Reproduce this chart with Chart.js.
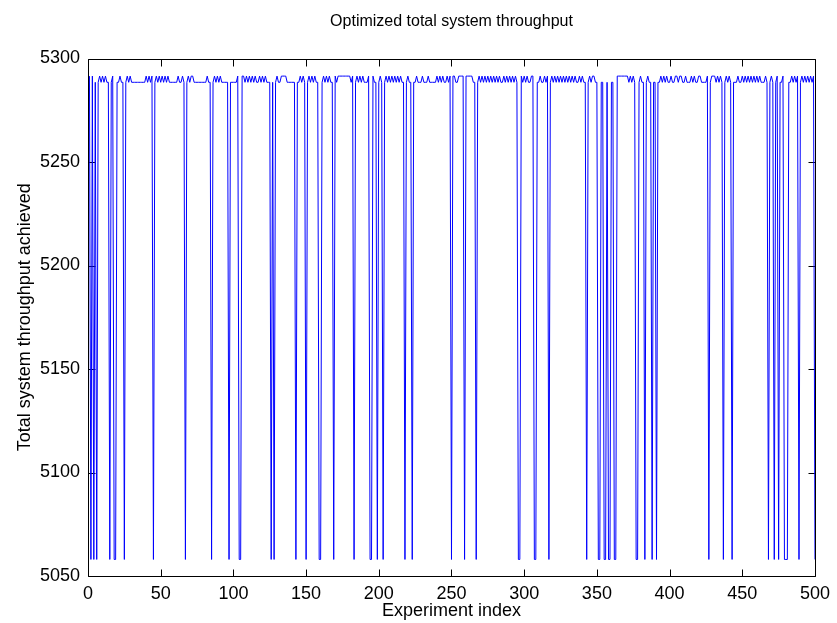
<!DOCTYPE html>
<html>
<head>
<meta charset="utf-8">
<script src="https://cdn.jsdelivr.net/npm/chart.js@4/dist/chart.umd.min.js"></script>
<style>
  html, body { margin: 0; padding: 0; background: #fff; }
  #wrap { width: 837px; height: 623px; }
</style>
</head>
<body>
<div id="wrap"><canvas id="c" width="837" height="623"></canvas></div>
<script>
// ---- data ----
const chartTitle = 'Optimized total system throughput';
const xAxisLabel = 'Experiment index';
const yAxisLabel = 'Total system throughput achieved';
const xTicks = [0, 50, 100, 150, 200, 250, 300, 350, 400, 450, 500];
const yTicks = [5050, 5100, 5150, 5200, 5250, 5300];

// throughput for experiments 1..500
const throughput = [
5291.5,5058,5291.5,5058,5288.5,5058,5288.5,5291.5,5288.5,5291.5,5288.5,5291.5,5288.5,5288.5,5058,5288.5,5291.5,5058,5058,5288.5,
5288.5,5291.5,5288.5,5288.5,5058,5288.5,5291.5,5288.5,5291.5,5288.5,5288.5,5288.5,5288.5,5288.5,5288.5,5288.5,5288.5,5288.5,5288.5,5291.5,
5288.5,5291.5,5288.5,5291.5,5058,5288.5,5291.5,5288.5,5291.5,5288.5,5291.5,5288.5,5291.5,5288.5,5291.5,5288.5,5288.5,5288.5,5288.5,5288.5,
5288.5,5291.5,5288.5,5288.5,5291.5,5288.5,5058,5288.5,5291.5,5288.5,5291.5,5291.5,5288.5,5288.5,5288.5,5288.5,5288.5,5288.5,5288.5,5288.5,
5288.5,5291.5,5288.5,5288.5,5058,5288.5,5291.5,5288.5,5291.5,5288.5,5291.5,5288.5,5288.5,5288.5,5288.5,5288.5,5058,5288.5,5288.5,5288.5,
5288.5,5288.5,5291.5,5058,5058,5291.5,5291.5,5288.5,5291.5,5288.5,5291.5,5288.5,5291.5,5288.5,5291.5,5288.5,5288.5,5291.5,5288.5,5291.5,
5288.5,5291.5,5288.5,5288.5,5288.5,5058,5288.5,5058,5288.5,5291.5,5288.5,5288.5,5291.5,5291.5,5291.5,5291.5,5288.5,5288.5,5288.5,5288.5,
5288.5,5288.5,5058,5288.5,5288.5,5291.5,5288.5,5291.5,5288.5,5058,5288.5,5291.5,5288.5,5291.5,5288.5,5291.5,5288.5,5288.5,5058,5058,
5288.5,5291.5,5288.5,5291.5,5288.5,5291.5,5288.5,5288.5,5058,5291.5,5288.5,5291.5,5291.5,5291.5,5291.5,5291.5,5291.5,5291.5,5291.5,5291.5,
5288.5,5291.5,5058,5288.5,5291.5,5288.5,5291.5,5288.5,5291.5,5288.5,5288.5,5288.5,5291.5,5058,5058,5291.5,5288.5,5288.5,5058,5288.5,
5291.5,5288.5,5058,5288.5,5291.5,5288.5,5291.5,5288.5,5291.5,5288.5,5291.5,5288.5,5291.5,5288.5,5291.5,5288.5,5288.5,5058,5288.5,5291.5,
5288.5,5288.5,5058,5288.5,5288.5,5291.5,5288.5,5288.5,5288.5,5291.5,5288.5,5288.5,5288.5,5291.5,5288.5,5288.5,5288.5,5288.5,5288.5,5291.5,
5288.5,5291.5,5288.5,5291.5,5288.5,5288.5,5291.5,5288.5,5291.5,5058,5291.5,5291.5,5288.5,5288.5,5291.5,5291.5,5291.5,5291.5,5058,5291.5,
5291.5,5291.5,5291.5,5291.5,5288.5,5288.5,5058,5288.5,5291.5,5288.5,5291.5,5288.5,5291.5,5288.5,5291.5,5288.5,5291.5,5288.5,5291.5,5288.5,
5291.5,5288.5,5291.5,5288.5,5288.5,5291.5,5288.5,5291.5,5288.5,5291.5,5288.5,5291.5,5288.5,5291.5,5288.5,5058,5058,5291.5,5288.5,5291.5,
5288.5,5291.5,5288.5,5288.5,5291.5,5291.5,5058,5058,5288.5,5288.5,5291.5,5288.5,5288.5,5291.5,5288.5,5291.5,5058,5288.5,5291.5,5288.5,
5291.5,5288.5,5291.5,5288.5,5291.5,5288.5,5291.5,5288.5,5291.5,5288.5,5291.5,5288.5,5291.5,5288.5,5291.5,5288.5,5288.5,5291.5,5288.5,5291.5,
5288.5,5288.5,5058,5288.5,5291.5,5288.5,5291.5,5291.5,5288.5,5288.5,5058,5058,5288.5,5288.5,5058,5058,5288.5,5058,5058,5288.5,
5288.5,5058,5058,5291.5,5291.5,5291.5,5291.5,5291.5,5291.5,5291.5,5291.5,5288.5,5291.5,5288.5,5291.5,5288.5,5058,5058,5288.5,5291.5,
5288.5,5288.5,5058,5288.5,5291.5,5288.5,5288.5,5058,5288.5,5288.5,5058,5288.5,5288.5,5291.5,5288.5,5291.5,5288.5,5291.5,5288.5,5288.5,
5291.5,5288.5,5288.5,5291.5,5291.5,5288.5,5291.5,5291.5,5288.5,5288.5,5291.5,5288.5,5288.5,5288.5,5291.5,5288.5,5291.5,5288.5,5288.5,5291.5,
5291.5,5288.5,5288.5,5288.5,5288.5,5291.5,5058,5288.5,5291.5,5291.5,5291.5,5288.5,5291.5,5288.5,5291.5,5288.5,5058,5288.5,5291.5,5288.5,
5291.5,5288.5,5058,5288.5,5288.5,5288.5,5291.5,5288.5,5288.5,5291.5,5288.5,5291.5,5288.5,5291.5,5288.5,5291.5,5288.5,5291.5,5288.5,5291.5,
5288.5,5291.5,5288.5,5288.5,5288.5,5291.5,5288.5,5058,5288.5,5291.5,5288.5,5058,5288.5,5291.5,5058,5288.5,5288.5,5291.5,5058,5058,
5058,5288.5,5288.5,5291.5,5288.5,5291.5,5288.5,5291.5,5058,5288.5,5291.5,5288.5,5291.5,5288.5,5291.5,5288.5,5291.5,5288.5,5291.5,5058
];

// ---- chart ----
const FONT = '"Liberation Sans", Arial, Helvetica, sans-serif';
const points = throughput.map((v, i) => ({ x: i + 1, y: v }));

const framePlugin = {
  id: 'matlabFrame',
  beforeDatasetsDraw(chart) {
    const { ctx, chartArea: a, scales } = chart;
    const L = Math.round(a.left) + 0.5, R = Math.round(a.right) + 0.5;
    const T = Math.round(a.top) + 0.5, B = Math.round(a.bottom) + 0.5;
    const tl = 7;
    ctx.save();
    ctx.strokeStyle = '#000';
    ctx.lineWidth = 1;
    ctx.beginPath();
    ctx.rect(L, T, R - L, B - T);
    xTicks.forEach(v => {
      const px = Math.round(scales.x.getPixelForValue(v)) + 0.5;
      ctx.moveTo(px, B); ctx.lineTo(px, B - tl);
      ctx.moveTo(px, T); ctx.lineTo(px, T + tl);
    });
    yTicks.forEach(v => {
      const py = Math.round(scales.y.getPixelForValue(v)) + 0.5;
      ctx.moveTo(L, py); ctx.lineTo(L + tl, py);
      ctx.moveTo(R, py); ctx.lineTo(R - tl, py);
    });
    ctx.stroke();
    ctx.restore();
  }
};

new Chart(document.getElementById('c'), {
  type: 'line',
  data: {
    datasets: [{
      data: points,
      borderColor: '#0000ff',
      borderWidth: 1,
      pointRadius: 0,
      tension: 0,
      fill: false
    }]
  },
  options: {
    responsive: false,
    animation: false,
    events: [],
    layout: { padding: { left: 0, right: 20, top: 0, bottom: 0 } },
    scales: {
      x: {
        type: 'linear',
        min: 0, max: 500,
        afterBuildTicks: s => { s.ticks = xTicks.map(v => ({ value: v })); },
        afterFit: s => { s.height = 47; },
        grid: { display: false, drawTicks: false },
        border: { display: false },
        ticks: { color: '#000', font: { family: FONT, size: 18 }, padding: 7, maxRotation: 0, autoSkip: false,
                 callback: v => String(v) },
        title: { display: true, text: xAxisLabel, color: '#000', font: { family: FONT, size: 18 }, padding: { top: 0, bottom: 1 } }
      },
      y: {
        type: 'linear',
        min: 5050, max: 5300,
        afterBuildTicks: s => { s.ticks = yTicks.map(v => ({ value: v })); },
        afterFit: s => { s.width = 88; },
        grid: { display: false, drawTicks: false },
        border: { display: false },
        ticks: { color: '#000', font: { family: FONT, size: 18 }, padding: 8, autoSkip: false,
                 callback: v => String(v) },
        title: { display: true, text: yAxisLabel, color: '#000', font: { family: FONT, size: 18 }, padding: { top: 14, bottom: 0 } }
      }
    },
    plugins: {
      legend: { display: false },
      tooltip: { enabled: false },
      title: {
        display: true, text: chartTitle, color: '#000', fullSize: false,
        font: { family: FONT, size: 16, weight: 'normal' },
        padding: { top: 12, bottom: 27.3 }
      }
    }
  },
  plugins: [framePlugin]
});
</script>
</body>
</html>
